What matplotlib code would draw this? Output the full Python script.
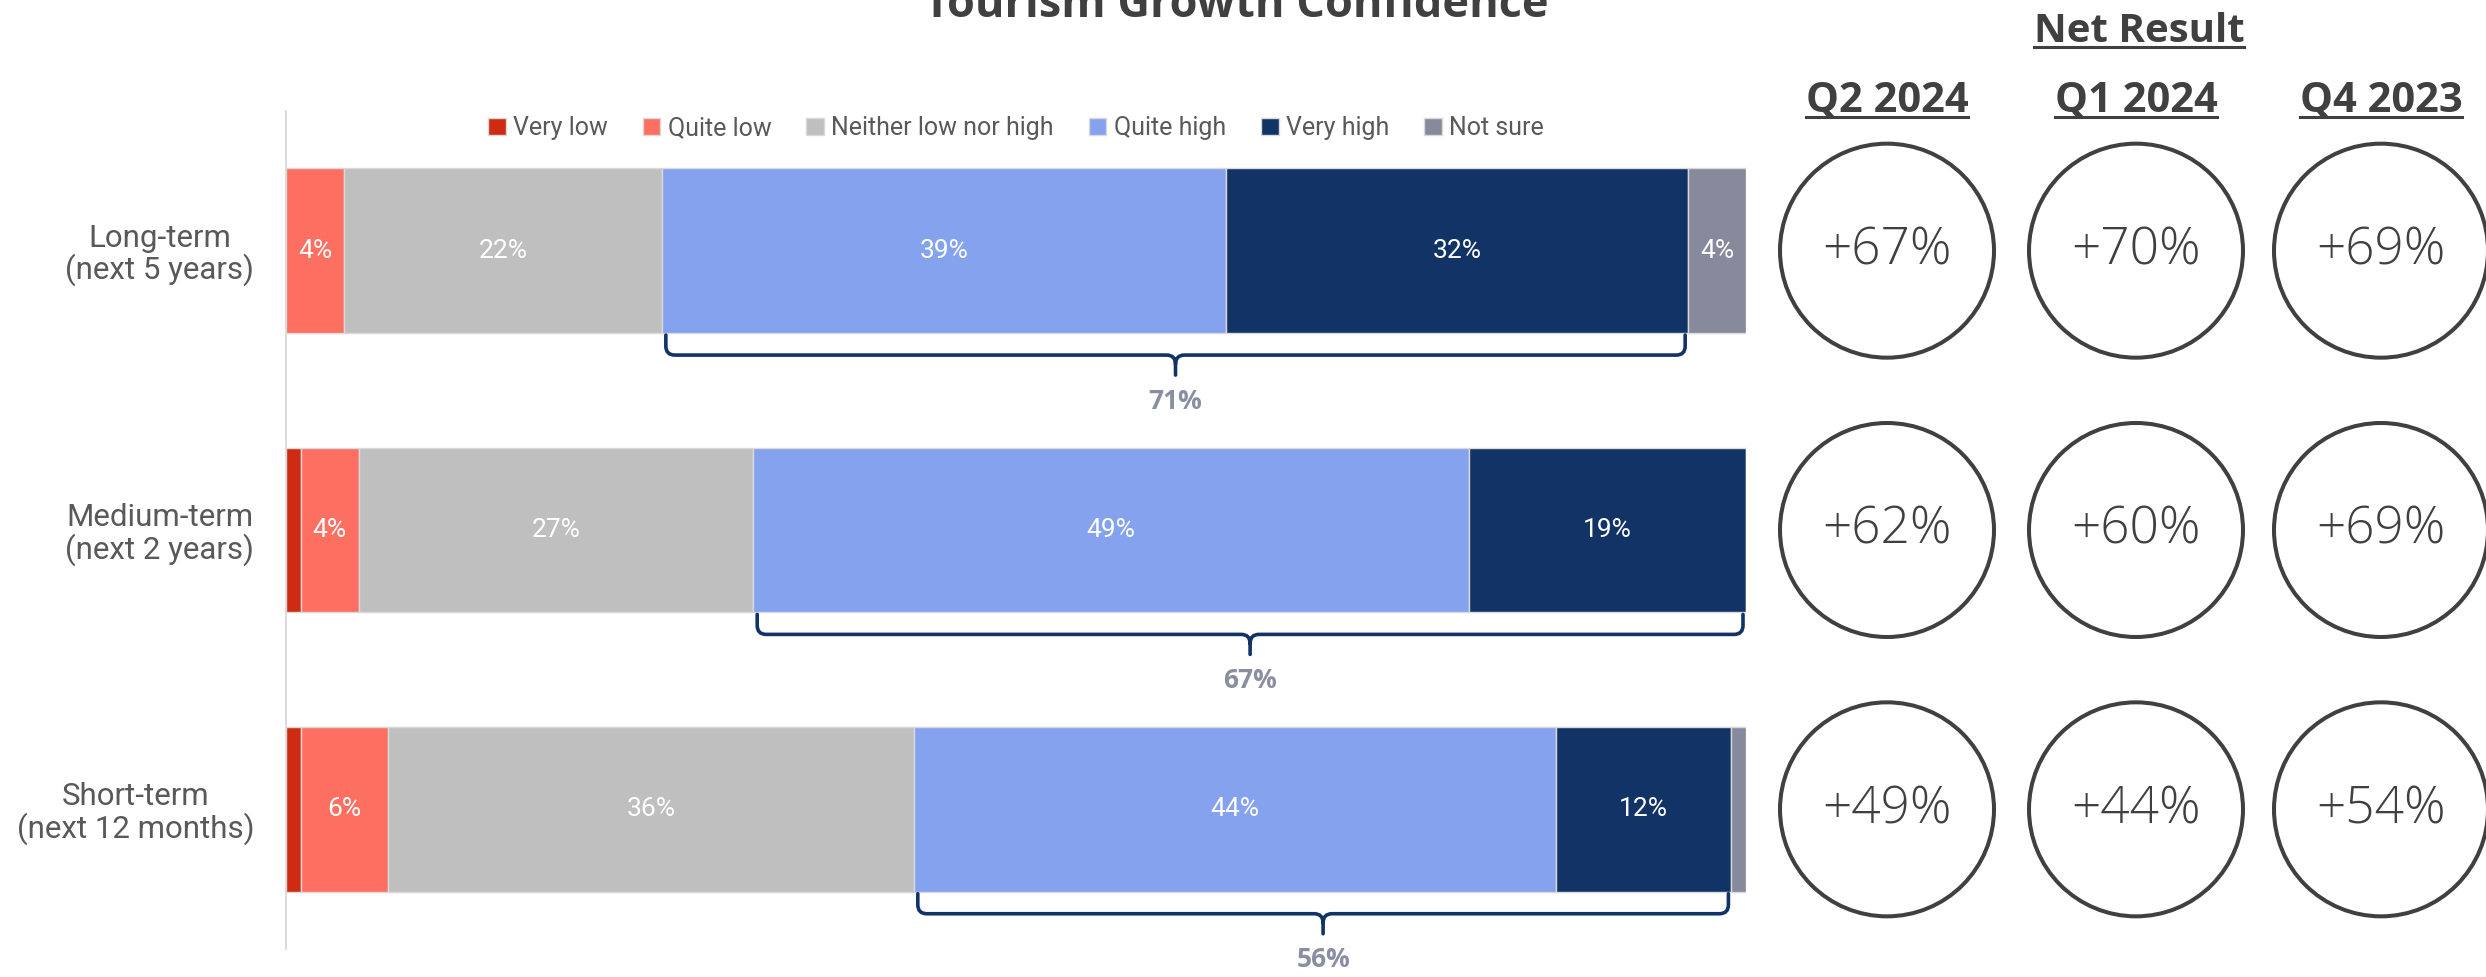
import matplotlib
matplotlib.use("Agg")
import matplotlib.pyplot as plt
from matplotlib.patches import Circle, PathPatch
from matplotlib.path import Path
from matplotlib.lines import Line2D
import numpy as np

# ---- data -------------------------------------------------------------
categories = ["Long-term\n(next 5 years)",
              "Medium-term\n(next 2 years)",
              "Short-term\n(next 12 months)"]
levels = ["Very low", "Quite low", "Neither low nor high",
          "Quite high", "Very high", "Not sure"]
very_low = [0, 1, 1]
quite_low = [4, 4, 6]
neither = [22, 27, 36]
quite_high = [39, 49, 44]
very_high = [32, 19, 12]
not_sure = [4, 0, 1]
high_totals = [71, 67, 56]

quarters = ["Q2 2024", "Q1 2024", "Q4 2023"]
net_q2_2024 = [67, 62, 49]
net_q1_2024 = [70, 60, 44]
net_q4_2023 = [69, 69, 54]

level_colors = ["#CF2A12", "#FC6F61", "#BFBFBF", "#84A2EE", "#113366", "#878A9C"]

# ---- figure -----------------------------------------------------------
W, H = 2486, 977
fig = plt.figure(figsize=(W / 100, H / 100), dpi=100)
fig.patch.set_facecolor("white")

ax_l, ax_top, ax_w, ax_h = 286, 111, 1460, 838
ax = fig.add_axes([ax_l / W, 1 - (ax_top + ax_h) / H, ax_w / W, ax_h / H])
ax.set_xlim(0, 100)
ax.set_ylim(2.5, -0.5)

series = np.array([very_low, quite_low, neither, quite_high, very_high, not_sure], dtype=float)
row_totals = series.sum(axis=0)
shares = series / row_totals * 100          # 100% stacked
ypos = np.arange(len(categories))
bar_h = 0.59

lefts = np.zeros(len(categories))
starts = []
for j, lvl in enumerate(levels):
    starts.append(lefts.copy())
    ax.barh(ypos, shares[j], left=lefts, height=bar_h, color=level_colors[j],
            edgecolor="#D9D9D9", linewidth=1.0, label=lvl)
    for i in range(len(categories)):
        v = series[j, i]
        if v >= 2:
            ax.text(lefts[i] + shares[j, i] / 2, ypos[i], f"{v:.0f}%",
                    ha="center", va="center", color="white",
                    fontsize=19, family="Roboto")
    lefts = lefts + shares[j]
starts = np.array(starts)

for s in ["top", "right", "bottom"]:
    ax.spines[s].set_visible(False)
ax.spines["left"].set_color("#D9D9D9")
ax.spines["left"].set_linewidth(1.3)
ax.set_xticks([])
ax.set_yticks(ypos)
ax.set_yticklabels(categories, fontsize=22.5, color="#595959", family="Roboto",
                   linespacing=1.05)
for t in ax.get_yticklabels():
    t.set_multialignment("center")
ax.tick_params(axis="y", length=0, pad=23)

leg = ax.legend(loc="center", bbox_to_anchor=(0.5, (ax_h - (128 - ax_top)) / ax_h),
                ncol=6, frameon=False, handlelength=0.7, handleheight=0.7,
                handletextpad=0.3, columnspacing=1.4,
                prop={"family": "Roboto", "size": 18})
for t in leg.get_texts():
    t.set_color("#595959")

# brackets grouping "Quite high" + "Very high"
sx = ax_w / 100.0
sy = ax_h / 3.0
navy = "#133366"
for i in range(len(categories)):
    x0 = starts[3, i] + 4 / sx
    x1 = starts[4, i] + shares[4, i] - 3 / sx
    xc = (x0 + x1) / 2
    bottom = ypos[i] + bar_h / 2
    yb = bottom + 2 / sy
    ym = bottom + 22 / sy
    yt = bottom + 42 / sy
    rx, ry = 9 / sx, 9 / sy
    verts = [(x0, yb), (x0, ym - ry), (x0, ym), (x0 + rx, ym), (xc - rx, ym),
             (xc, ym), (xc, ym + ry), (xc, yt),
             (xc, ym + ry), (xc, ym), (xc + rx, ym), (x1 - rx, ym),
             (x1, ym), (x1, ym - ry), (x1, yb)]
    codes = [Path.MOVETO, Path.LINETO, Path.CURVE3, Path.CURVE3, Path.LINETO,
             Path.CURVE3, Path.CURVE3, Path.LINETO,
             Path.MOVETO, Path.CURVE3, Path.CURVE3, Path.LINETO,
             Path.CURVE3, Path.CURVE3, Path.LINETO]
    ax.add_patch(PathPatch(Path(verts, codes), facecolor="none", edgecolor=navy,
                           linewidth=2.6, clip_on=False, capstyle="round"))
    ax.text(xc, bottom + 68 / sy, f"{high_totals[i]}%", ha="center", va="center",
            color="#8A8EA2", fontsize=19, fontweight="bold", family="Open Sans",
            clip_on=False)

# ---- overlay in pixel units for title and net result panel -------------
ov = fig.add_axes([0, 0, 1, 1])
ov.set_xlim(0, W)
ov.set_ylim(H, 0)
ov.axis("off")

dark = "#404040"
ov.text(1236, 17, "Tourism Growth Confidence", ha="center", va="baseline",
        fontsize=32.5, fontweight="bold", family="Open Sans", color=dark)

underlined = []
underlined.append(ov.text(2139, 42, "Net Result", ha="center", va="baseline",
                          fontsize=29, fontweight="bold", family="Open Sans", color=dark))
col_x = [1887, 2136, 2381]
for cx, q in zip(col_x, quarters):
    underlined.append(ov.text(cx, 112, q, ha="center", va="baseline",
                              fontsize=30, fontweight="bold", family="Open Sans",
                              color=dark))

net_columns = [net_q2_2024, net_q1_2024, net_q4_2023]
for cx, vals in zip(col_x, net_columns):
    for i, v in enumerate(vals):
        disp_y = ax.transData.transform((50, ypos[i]))[1]
        cy = H - disp_y
        ov.add_patch(Circle((cx, cy), 107, facecolor="none", edgecolor=dark,
                            linewidth=2.9))
        ov.text(cx, cy, f"+{v}%", ha="center", va="center", fontsize=37,
                family="Open Sans", fontweight="light", color=dark)

fig.canvas.draw()
renderer = fig.canvas.get_renderer()
inv = ov.transData.inverted()
for t in underlined:
    bb = t.get_window_extent(renderer)
    (xa, _), (xb, _) = inv.transform([(bb.x0, 0), (bb.x1, 0)])
    ybase = t.get_position()[1] + 5
    ov.add_line(Line2D([xa, xb], [ybase, ybase], color=dark, linewidth=2.2))

fig.savefig("out.png", dpi=100)
